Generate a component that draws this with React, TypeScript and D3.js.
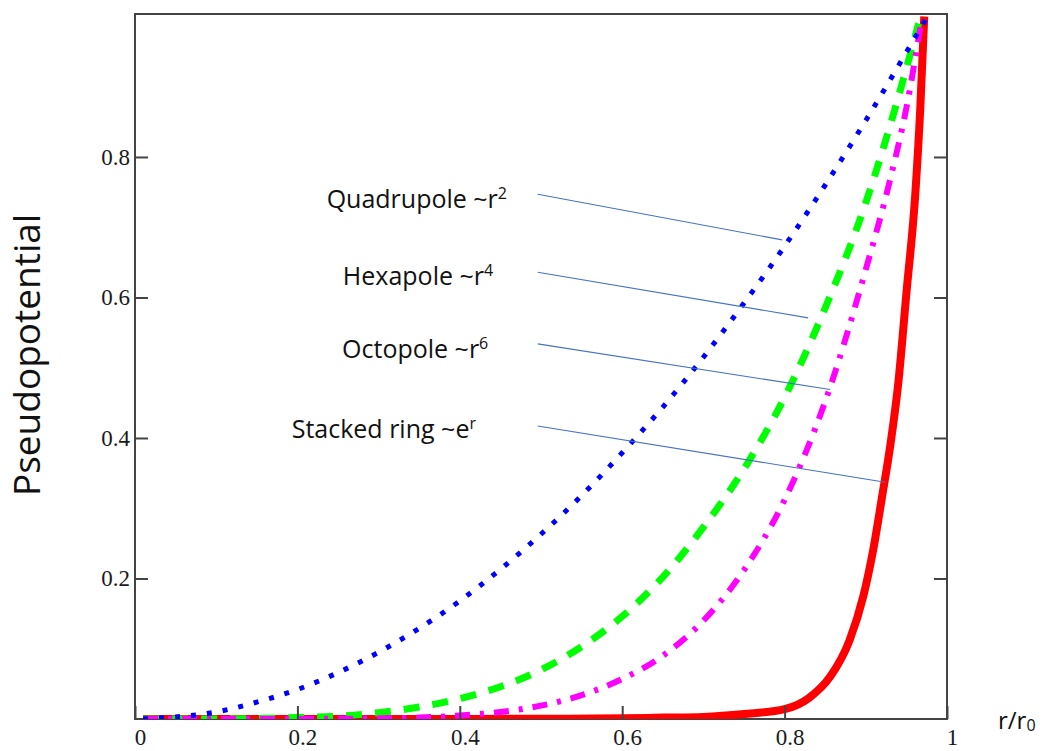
import React, { useEffect, useRef } from 'react';
import * as d3 from 'd3';

// values: [r/r0, pseudopotential]
const quadrupole: [number, number][] = [
  [0.01, 0.0001], [0.05, 0.003], [0.1, 0.010], [0.15, 0.024], [0.2, 0.042], [0.25, 0.066],
  [0.3, 0.095], [0.35, 0.129], [0.4, 0.168], [0.45, 0.213], [0.5, 0.263], [0.55, 0.318],
  [0.6, 0.379], [0.65, 0.444], [0.7, 0.515], [0.75, 0.592], [0.8, 0.673], [0.85, 0.760],
  [0.9, 0.852], [0.95, 0.949], [0.975, 0.998],
];
const hexapole: [number, number][] = [
  [0.01, 0], [0.1, 0.0001], [0.15, 0.0006], [0.2, 0.002], [0.25, 0.004], [0.3, 0.009],
  [0.35, 0.017], [0.4, 0.029], [0.45, 0.046], [0.5, 0.070], [0.55, 0.103], [0.6, 0.146],
  [0.65, 0.202], [0.7, 0.273], [0.75, 0.356], [0.8, 0.458], [0.85, 0.585], [0.9, 0.735],
  [0.93, 0.845], [0.965, 0.99],
];
const octopole: [number, number][] = [
  [0.01, 0], [0.2, 0.0001], [0.25, 0.0003], [0.3, 0.0009], [0.35, 0.002], [0.4, 0.005],
  [0.45, 0.010], [0.5, 0.019], [0.55, 0.034], [0.6, 0.057], [0.65, 0.090], [0.7, 0.140],
  [0.75, 0.212], [0.8, 0.312], [0.85, 0.452], [0.9, 0.640], [0.93, 0.768], [0.95, 0.870],
  [0.968, 0.99],
];
const stackedRing: [number, number][] = [
  [0.01, 0], [0.3, 0], [0.5, 0.0003], [0.6, 0.001], [0.65, 0.002], [0.7, 0.003],
  [0.75, 0.007], [0.8, 0.014], [0.83, 0.030], [0.856, 0.060], [0.88, 0.112], [0.897, 0.175],
  [0.909, 0.240], [0.92, 0.316], [0.93, 0.388], [0.94, 0.478], [0.95, 0.606], [0.961, 0.748],
  [0.967, 0.867], [0.972, 1.0],
];

const xTicks = [0, 0.2, 0.4, 0.6, 0.8, 1];
const yTicks = [0.2, 0.4, 0.6, 0.8];

const labelNames = ['Quadrupole ~r', 'Hexapole ~r', 'Octopole ~r', 'Stacked ring ~e'];
const labelPowers = ['2', '4', '6', 'r'];

// label anchor + leader line, in data units
const labelLayout = [
  { tx: 0.236, ty: 0.727, x1: 0.496, y1: 0.747, x2: 0.797, y2: 0.682 },
  { tx: 0.256, ty: 0.618, x1: 0.496, y1: 0.636, x2: 0.829, y2: 0.571 },
  { tx: 0.255, ty: 0.514, x1: 0.496, y1: 0.534, x2: 0.856, y2: 0.469 },
  { tx: 0.193, ty: 0.400, x1: 0.496, y1: 0.417, x2: 0.924, y2: 0.337 },
];

const seriesStyle = [
  { data: stackedRing, color: '#ff0000', width: 8, dash: null },
  { data: hexapole, color: '#00ff00', width: 7, dash: '16 13' },
  { data: octopole, color: '#ff00ff', width: 6, dash: '15 10 4 10' },
  { data: quadrupole, color: '#0000ff', width: 5, dash: '5 11' },
];

const W = 1046;
const H = 751;
const frame = '#444';
const sans = '"Open Sans", sans-serif';
const serif = '"Liberation Serif", "Times New Roman", serif';

export default function App() {
  const svgRef = useRef<SVGSVGElement>(null);

  useEffect(() => {
    const svg = d3.select(svgRef.current);
    svg.selectAll('*').remove();

    const x = d3.scaleLinear().domain([0, 1]).range([135, 947]);
    const y = d3.scaleLinear().domain([0, 1.0035]).range([719, 14]);

    svg.append('defs').append('clipPath').attr('id', 'plot-clip')
      .append('rect')
      .attr('x', x(0)).attr('y', 0)
      .attr('width', x(1) - x(0)).attr('height', y(0));

    // frame
    svg.append('rect')
      .attr('x', x(0)).attr('y', y(1.0035))
      .attr('width', x(1) - x(0)).attr('height', y(0) - y(1.0035))
      .attr('fill', 'none').attr('stroke', frame).attr('stroke-width', 2);

    const line = d3.line<[number, number]>()
      .x(d => x(d[0]))
      .y(d => y(d[1]))
      .curve(d3.curveMonotoneX);

    const plot = svg.append('g').attr('clip-path', 'url(#plot-clip)');
    seriesStyle.forEach(s => {
      plot.append('path')
        .datum(s.data)
        .attr('fill', 'none')
        .attr('stroke', s.color)
        .attr('stroke-width', s.width)
        .attr('stroke-dasharray', s.dash)
        .attr('stroke-linecap', 'butt')
        .attr('d', line);
    });

    // axes, ticks pointing inward
    const gx = svg.append('g')
      .attr('transform', `translate(0,${y(0)})`)
      .call(d3.axisBottom(x).tickValues(xTicks).tickSize(-13).tickPadding(10).tickFormat(d3.format('~g')));
    const gy = svg.append('g')
      .attr('transform', `translate(${x(0)},0)`)
      .call(d3.axisLeft(y).tickValues(yTicks).tickSize(-13).tickPadding(5).tickFormat(d3.format('.1f')));
    const gr = svg.append('g')
      .attr('transform', `translate(${x(1)},0)`)
      .call(d3.axisRight(y).tickValues(yTicks).tickSize(-13).tickFormat(() => ''));

    [gx, gy, gr].forEach(g => {
      g.select('.domain').remove();
      g.selectAll('line').attr('stroke', frame).attr('stroke-width', 2);
      g.selectAll('text')
        .style('font-family', serif)
        .style('font-size', '23px')
        .attr('fill', '#1a1a1a');
    });
    gx.selectAll('text').attr('dx', 5);

    // annotations
    labelLayout.forEach((l, i) => {
      svg.append('line')
        .attr('x1', x(l.x1)).attr('y1', y(l.y1))
        .attr('x2', x(l.x2)).attr('y2', y(l.y2))
        .attr('stroke', '#4472c4').attr('stroke-width', 1.1);
      const t = svg.append('text')
        .attr('x', x(l.tx)).attr('y', y(l.ty))
        .style('font-family', sans).style('font-size', '25px').attr('fill', '#111');
      t.append('tspan').text(labelNames[i]);
      t.append('tspan').style('font-size', '16px').attr('dy', -9).text(labelPowers[i]);
    });

    // axis titles
    svg.append('text')
      .attr('transform', `translate(40,355) rotate(-90)`)
      .attr('text-anchor', 'middle')
      .style('font-family', sans).style('font-size', '37px').attr('fill', '#111')
      .text('Pseudopotential');

    const xt = svg.append('text')
      .attr('x', 998).attr('y', 729)
      .style('font-family', sans).style('font-size', '24px').attr('fill', '#111');
    xt.append('tspan').text('r/r');
    xt.append('tspan').style('font-size', '16px').attr('dy', 2).text('0');
  }, []);

  return (
    <svg
      ref={svgRef}
      width={W}
      height={H}
      style={{ position: 'absolute', left: 0, top: 0, background: '#fff' }}
    />
  );
}
